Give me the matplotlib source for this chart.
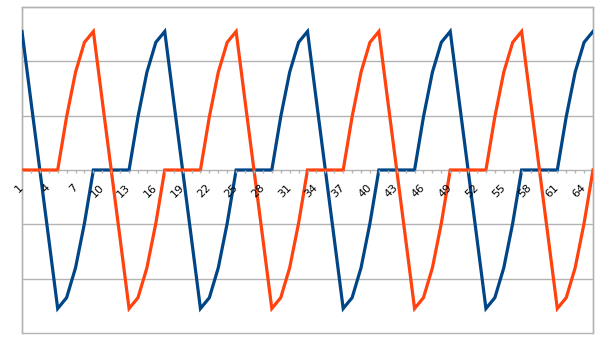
import matplotlib
matplotlib.use("Agg")
import matplotlib.pyplot as plt
from matplotlib.patches import Rectangle

categories = list(range(1, 66))
tick_labels = [str(c) if (c - 1) % 3 == 0 else "" for c in categories]

blue_values = [
    2.55, 1.27, 0, -1.27, -2.55, -2.35, -1.8, -0.98, 0, 0, 0, 0, 0, 0.98, 1.8, 2.35,
    2.55, 1.27, 0, -1.27, -2.55, -2.35, -1.8, -0.98, 0, 0, 0, 0, 0, 0.98, 1.8, 2.35,
    2.55, 1.27, 0, -1.27, -2.55, -2.35, -1.8, -0.98, 0, 0, 0, 0, 0, 0.98, 1.8, 2.35,
    2.55, 1.27, 0, -1.27, -2.55, -2.35, -1.8, -0.98, 0, 0, 0, 0, 0, 0.98, 1.8, 2.35,
    2.55,
]
orange_values = [
    0, 0, 0, 0, 0, 0.98, 1.8, 2.35, 2.55, 1.27, 0, -1.27, -2.55, -2.35, -1.8, -0.98,
    0, 0, 0, 0, 0, 0.98, 1.8, 2.35, 2.55, 1.27, 0, -1.27, -2.55, -2.35, -1.8, -0.98,
    0, 0, 0, 0, 0, 0.98, 1.8, 2.35, 2.55, 1.27, 0, -1.27, -2.55, -2.35, -1.8, -0.98,
    0, 0, 0, 0, 0, 0.98, 1.8, 2.35, 2.55, 1.27, 0, -1.27, -2.55, -2.35, -1.8, -0.98,
    0,
]

W, H = 605, 340
fig = plt.figure(figsize=(W / 100, H / 100), dpi=100)
ax = fig.add_axes([22 / W, 7 / H, 571 / W, 326 / H])

grey = "#b3b3b3"
ax.set_xlim(1, 65)
ax.set_ylim(-3, 3)

for y in [-2, -1, 1, 2]:
    ax.axhline(y, color=grey, lw=1, zorder=0.5)

ax.plot(categories, blue_values, color="#004586", lw=2.3, zorder=3, solid_joinstyle="miter")
ax.plot(categories, orange_values, color="#ff420e", lw=2.3, zorder=3.1, solid_joinstyle="miter")

for s in ["left", "right", "top"]:
    ax.spines[s].set_color(grey)
    ax.spines[s].set_linewidth(1)
ax.spines["bottom"].set_position(("data", 0))
ax.spines["bottom"].set_color(grey)
ax.spines["bottom"].set_linewidth(1)
ax.spines["bottom"].set_zorder(1)
ax.add_patch(Rectangle((0, 0), 1, 1, transform=ax.transAxes, fill=False,
                       edgecolor=grey, lw=1, clip_on=False, zorder=1))

ax.set_yticks([])
ax.set_xticks(categories)
ax.set_xticklabels(tick_labels, rotation=45, ha="right", va="center",
                   rotation_mode="anchor", fontsize=8, color="black",
                   family="DejaVu Sans")
ax.tick_params(axis="x", direction="out", length=2.5, width=1, color=grey, pad=9)
ax.xaxis.set_zorder(4)

fig.savefig("out.png", dpi=100)
